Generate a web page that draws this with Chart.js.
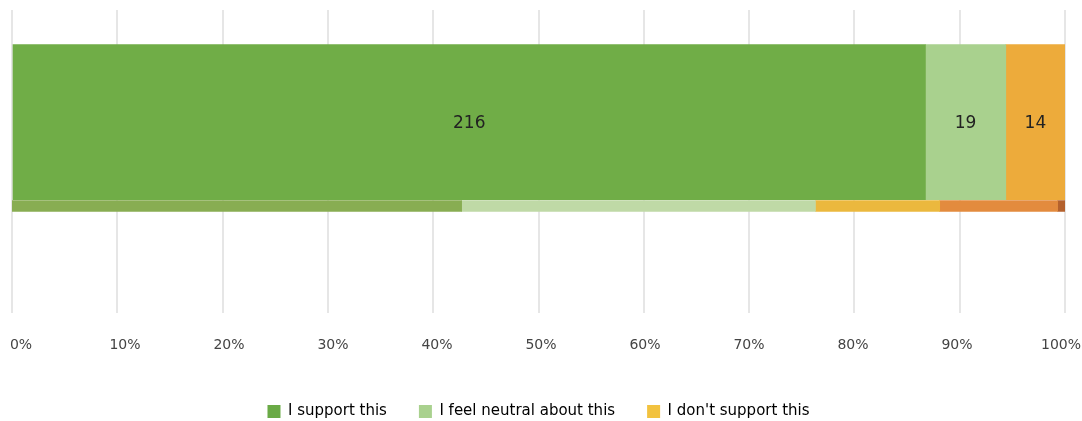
<!DOCTYPE html>
<html>
<head>
<meta charset="utf-8">
<script src="https://cdn.jsdelivr.net/npm/chart.js@4.4.0/dist/chart.umd.min.js"></script>
<style>
  html, body { margin: 0; padding: 0; background: #fff; }
  #wrap { width: 1082px; height: 421px; }
</style>
</head>
<body>
<div id="wrap"><canvas id="supportChart"></canvas></div>
<script>
// Responses per answer
const answers = ["I support this", "I feel neutral about this", "I don't support this"];
const counts = [216, 19, 14];
const barColors = ["#70ad47", "#a9d18e", "#edab3b"];
const legendColors = ["#6aaa46", "#a9d18e", "#f2c23f"];

// Thin summary strip under the bar (percent boundaries)
const stripEdges = [-0.3, 42.7, 76.3, 88.1, 99.3, 100.1];
const stripColors = ["#88ad52", "#bfd9a6", "#ebb83e", "#e38b3e", "#b4612d"];

const tickValues = [0, 10, 20, 30, 40, 50, 60, 70, 80, 90, 100];

const total = counts.reduce((a, b) => a + b, 0);
const datasets = [];
let acc = 0;
counts.forEach((c, i) => {
  const start = acc / total * 100;
  acc += c;
  datasets.push({
    label: answers[i],
    data: [{ x: [start, acc / total * 100], y: 0 }],
    backgroundColor: barColors[i],
    barThickness: 155,
    grouped: false,
    count: c
  });
});
stripColors.forEach((col, i) => {
  datasets.push({
    label: "strip" + i,
    data: [{ x: [stripEdges[i], stripEdges[i + 1]], y: 1 }],
    backgroundColor: col,
    barThickness: 11,
    grouped: false
  });
});

// Prints the response count in the middle of each segment
const countLabels = {
  id: "countLabels",
  afterDatasetsDraw(chart) {
    const ctx = chart.ctx;
    ctx.save();
    ctx.font = "17px 'DejaVu Sans'";
    ctx.fillStyle = "#222";
    ctx.textAlign = "center";
    ctx.textBaseline = "middle";
    chart.data.datasets.forEach((ds, i) => {
      if (ds.count === undefined) return;
      const bar = chart.getDatasetMeta(i).data[0];
      ctx.fillText(String(ds.count), (bar.x + bar.base) / 2, bar.y + 1);
    });
    ctx.restore();
  }
};

new Chart(document.getElementById("supportChart"), {
  type: "bar",
  data: { datasets },
  plugins: [countLabels],
  options: {
    indexAxis: "y",
    responsive: true,
    maintainAspectRatio: false,
    animation: false,
    layout: { padding: { top: 10, left: 12, right: 17, bottom: -8 } },
    scales: {
      x: {
        type: "linear",
        min: 0,
        max: 100,
        grid: { color: "#e6e6e6", lineWidth: 2, drawTicks: false },
        border: { display: false },
        ticks: { display: false, stepSize: 10 }
      },
      xLabels: {
        type: "linear",
        position: "bottom",
        min: -0.865,
        max: 100.385,
        grid: { display: false },
        border: { display: false },
        afterBuildTicks: s => { s.ticks = tickValues.map(v => ({ value: v })); },
        afterFit: s => { s.paddingLeft = 0; s.paddingRight = 0; s.height += 2; },
        ticks: {
          padding: 16,
          color: "#444",
          font: { family: "'DejaVu Sans'", size: 14 },
          maxRotation: 0,
          callback: v => v + "%"
        }
      },
      y: {
        type: "linear",
        reverse: true,
        offset: false,
        min: -1.339,
        max: 2.28,
        display: false
      }
    },
    plugins: {
      tooltip: { enabled: false },
      legend: {
        position: "bottom",
        labels: {
          boxWidth: 13,
          boxHeight: 13,
          padding: 32,
          color: "#444",
          font: { family: "'DejaVu Sans'", size: 15 },
          generateLabels: () => answers.map((a, i) => ({
            text: a,
            fillStyle: legendColors[i],
            strokeStyle: legendColors[i],
            lineWidth: 0,
            datasetIndex: i
          }))
        }
      }
    }
  }
});
</script>
</body>
</html>
